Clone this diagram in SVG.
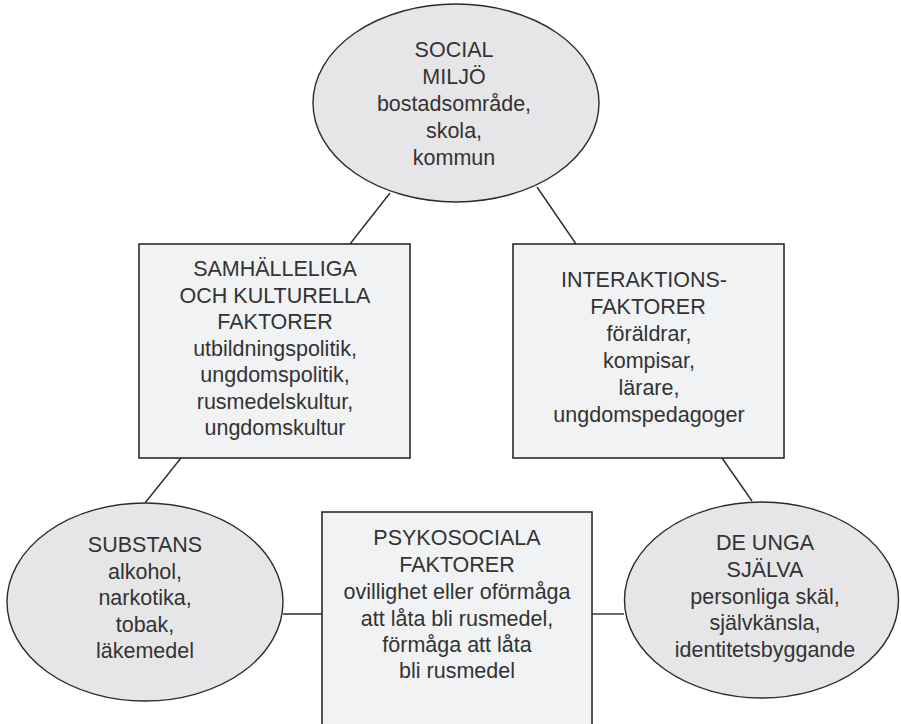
<svg xmlns="http://www.w3.org/2000/svg" width="901" height="724" viewBox="0 0 901 724">
<style>
.bg{fill:#ffffff}
.ell{fill:#e6e6e8;stroke:#2b2b2b;stroke-width:1.4}
.box{fill:#f1f2f4;stroke:#2b2b2b;stroke-width:1.6}
.con{stroke:#2b2b2b;stroke-width:1.4;fill:none}
text{font-family:"Liberation Sans",Arial,sans-serif;font-size:21.5px;fill:#333333;text-anchor:middle}
</style>
<rect class="bg" x="0" y="0" width="901" height="724"/>
<g id="connectors">
<line class="con" x1="390" y1="193" x2="350" y2="244"/>
<line class="con" x1="537" y1="187" x2="576" y2="244"/>
<line class="con" x1="181" y1="458" x2="145" y2="503"/>
<line class="con" x1="722" y1="458" x2="752" y2="501"/>
<line class="con" x1="283" y1="614" x2="322" y2="614"/>
<line class="con" x1="592" y1="614" x2="624" y2="614"/>
</g>
<g id="social-miljo">
<ellipse class="ell" cx="456" cy="103" rx="143" ry="99"/>
<text x="454" y="57">SOCIAL</text>
<text x="454" y="84">MILJÖ</text>
<text x="454" y="111">bostadsområde,</text>
<text x="454" y="138">skola,</text>
<text x="454" y="165">kommun</text>
</g>
<g id="samhalleliga">
<rect class="box" x="139" y="244" width="271" height="214"/>
<text x="275" y="276">SAMHÄLLELIGA</text>
<text x="275" y="302.5">OCH KULTURELLA</text>
<text x="275" y="329">FAKTORER</text>
<text x="275" y="355.5">utbildningspolitik,</text>
<text x="275" y="382">ungdomspolitik,</text>
<text x="275" y="408.5">rusmedelskultur,</text>
<text x="275" y="435">ungdomskultur</text>
</g>
<g id="interaktion">
<rect class="box" x="513" y="244" width="271" height="214"/>
<text x="644" y="287">INTERAKTIONS-</text>
<text x="648" y="314">FAKTORER</text>
<text x="649" y="341">föräldrar,</text>
<text x="649" y="368">kompisar,</text>
<text x="649" y="395">lärare,</text>
<text x="649" y="422">ungdomspedagoger</text>
</g>
<g id="substans">
<ellipse class="ell" cx="145" cy="602" rx="138" ry="99"/>
<text x="145" y="552">SUBSTANS</text>
<text x="145" y="578.5">alkohol,</text>
<text x="145" y="605">narkotika,</text>
<text x="145" y="631.5">tobak,</text>
<text x="145" y="658">läkemedel</text>
</g>
<g id="psykosociala">
<rect class="box" x="322" y="512" width="270" height="230"/>
<text x="457" y="545">PSYKOSOCIALA</text>
<text x="457" y="572">FAKTORER</text>
<text x="457" y="599">ovillighet eller oförmåga</text>
<text x="457" y="626">att låta bli rusmedel,</text>
<text x="457" y="652">förmåga att låta</text>
<text x="457" y="678">bli rusmedel</text>
</g>
<g id="de-unga">
<ellipse class="ell" cx="761.5" cy="600" rx="137" ry="98"/>
<text x="765" y="550">DE UNGA</text>
<text x="765" y="577">SJÄLVA</text>
<text x="765" y="604">personliga skäl,</text>
<text x="765" y="630">självkänsla,</text>
<text x="765" y="657">identitetsbyggande</text>
</g>
</svg>
